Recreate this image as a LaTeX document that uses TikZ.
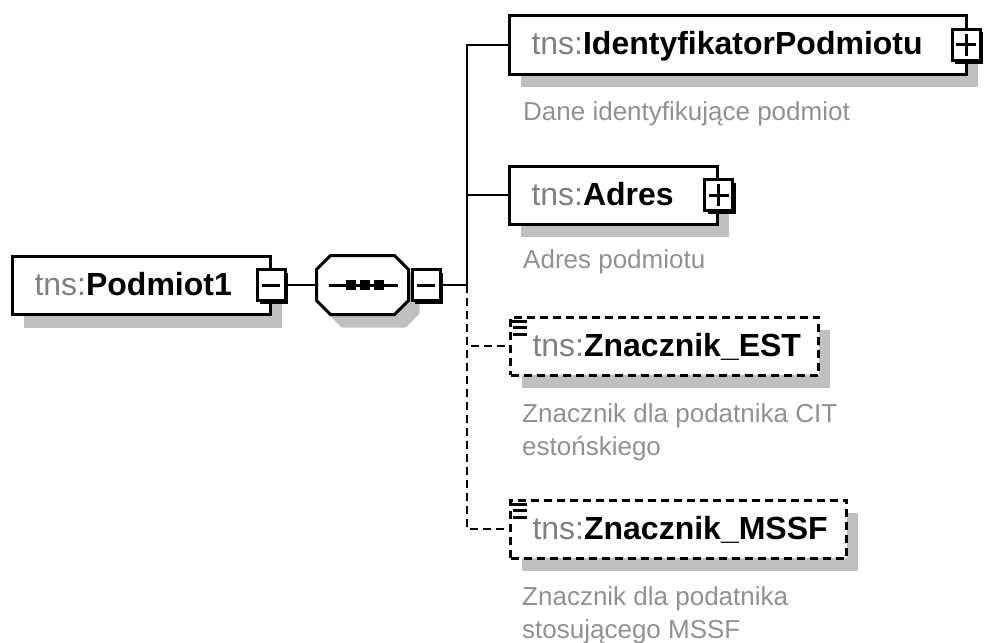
\documentclass[tikz,border=0pt]{standalone}
\usepackage{fontspec}
\setmainfont{Liberation Sans}
\usetikzlibrary{shadows}

\definecolor{nsgray}{RGB}{128,128,128}
\definecolor{docgray}{RGB}{145,145,145}
\definecolor{shadowgray}{RGB}{192,192,192}

\newcommand{\namefont}{\fontsize{32}{38}\selectfont}
\newcommand{\docfont}{\fontsize{26}{33}\selectfont}
\newcommand{\tns}[1]{\textcolor{nsgray}{tns:}\textbf{#1}}

\tikzset{
  shadowed/.style={general shadow={fill=shadowgray, shadow xshift=11pt, shadow yshift=-13pt}},
  elembox/.style={draw, line width=3pt, fill=white, shadowed, anchor=west,
    minimum height=58pt, inner sep=0pt, text width=#1, align=left,
    text height=27pt, text depth=7pt, font=\namefont,
    execute at begin node={\hspace*{22pt}}},
  optbox/.style={elembox=#1, dash pattern=on 8pt off 5pt},
  btn/.style={draw, line width=3pt, fill=white, inner sep=0pt,
    minimum width=28pt, minimum height=31pt,
    general shadow={fill=black, shadow xshift=3pt, shadow yshift=-3pt}},
  minusbtn/.style={btn, path picture={
    \draw[line width=3pt] ([xshift=-9pt]path picture bounding box.center) -- ([xshift=9pt]path picture bounding box.center);}},
  plusbtn/.style={btn, path picture={
    \draw[line width=3pt] ([xshift=-10pt]path picture bounding box.center) -- ([xshift=10pt]path picture bounding box.center);
    \draw[line width=3pt] ([yshift=-11pt]path picture bounding box.center) -- ([yshift=11pt]path picture bounding box.center);}},
  seqframe/.style={minimum width=92pt, minimum height=59pt, inner sep=0pt, outer sep=0pt},
  seqshape/.style={draw, line width=3pt, fill=white, shadowed},
  doc/.style={anchor=base west, inner sep=0pt, font=\docfont, text=docgray, align=left},
  link/.style={line width=2.5pt},
  optlink/.style={link, dash pattern=on 8pt off 5pt},
}

\begin{document}
\begin{tikzpicture}[x=1pt,y=-1pt]
\useasboundingbox (0,0) rectangle (984,642);

% Root element and sequence
\node[elembox=258pt] (podmiot) at (11,285.5) {\tns{Podmiot1}};
\node[minusbtn] (podbtn) at (271,285) {};
\node[seqframe] (seq) at (362.5,285) {};
\draw[seqshape] ([xshift=14pt]seq.north west) -- ([xshift=-14pt]seq.north east)
  -- ([yshift=-14pt]seq.north east) -- ([yshift=14pt]seq.south east)
  -- ([xshift=-14pt]seq.south east) -- ([xshift=14pt]seq.south west)
  -- ([yshift=14pt]seq.south west) -- ([yshift=-14pt]seq.north west) -- cycle;
\draw[line width=3pt] ([xshift=-34pt]seq.center) -- ([xshift=35pt]seq.center);
\foreach \dx in {-12,2,16}
  \fill ([xshift=\dx]seq.center) +(-5,-5) rectangle +(5,5);
\node[minusbtn] (seqbtn) at (426,285) {};

% Children
\node[elembox=457pt] (ident) at (508,45) {\tns{IdentyfikatorPodmiotu}};
\node[plusbtn] (identbtn) at (966,45) {};
\node[doc] (identdoc) at (523,120) {Dane identyfikujące podmiot};

\node[elembox=208pt] (adres) at (508,195) {\tns{Adres}};
\node[plusbtn] (adresbtn) at (718.5,195) {};
\node[doc] (adresdoc) at (523,268) {Adres podmiotu};

\node[optbox=308pt] (est) at (509,346) {\tns{Znacznik\_EST}};
\node[doc] (estdoc) at (522,455) {Znacznik dla podatnika CIT\\estońskiego};

\node[optbox=336pt] (mssf) at (509,529) {\tns{Znacznik\_MSSF}};
\node[doc] (mssfdoc) at (522,638) {Znacznik dla podatnika\\stosującego MSSF};

% Simple-type marks
\foreach \n in {est,mssf} {
  \draw[line width=2.5pt] ([xshift=3pt,yshift=-6pt]\n.north west) -- ++(15,0);
  \draw[line width=2.5pt] ([xshift=4pt,yshift=-12pt]\n.north west) -- ++(14,0);
  \draw[line width=2.5pt] ([xshift=4pt,yshift=-19pt]\n.north west) -- ++(14,0);
}

% Connectors
\coordinate (hub) at (467,285);
\draw[link] (podbtn.east) -- (seq.west);
\draw[link] (seqbtn.east) -- (hub);
\draw[link] (hub) |- (ident.west);
\draw[link] (hub) |- (adres.west);
\draw[optlink] (hub) |- (est.west);
\draw[optlink] (hub) |- (mssf.west);

\end{tikzpicture}
\end{document}
